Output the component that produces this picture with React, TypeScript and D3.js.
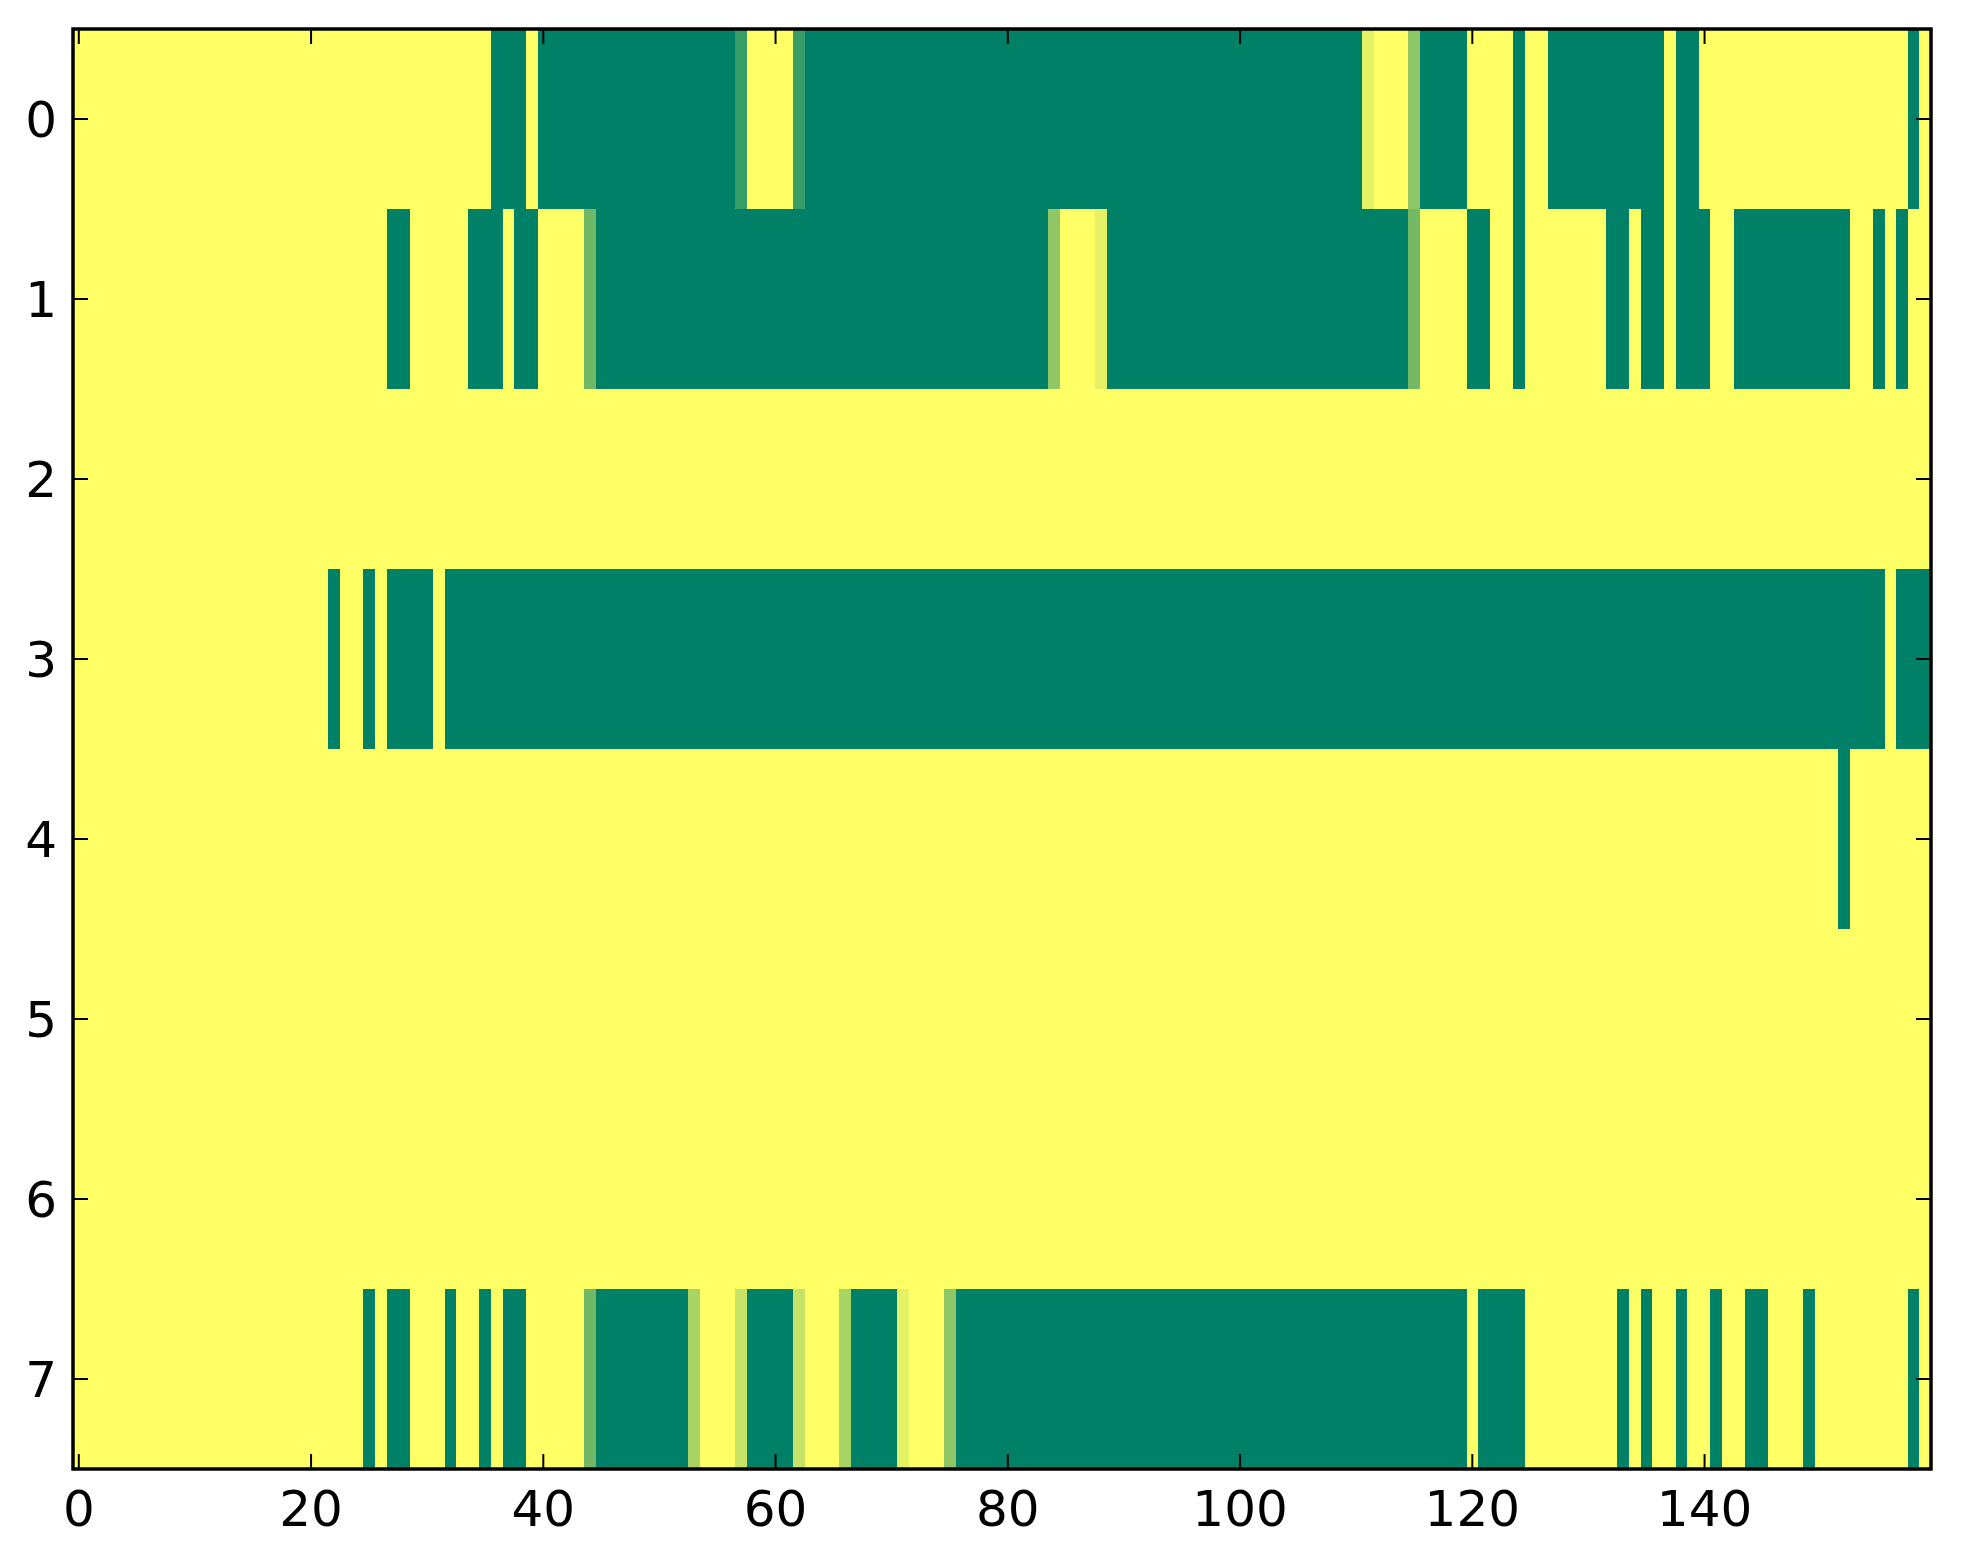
import React, { useEffect, useRef } from 'react';
import * as d3 from 'd3';

// one array per row of the image, 160 columns each
const row0 = [
  0, 0, 0, 0, 0, 0, 0, 0, 0, 0, 0, 0, 0, 0, 0, 0, 0, 0, 0, 0,
  0, 0, 0, 0, 0, 0, 0, 0, 0, 0, 0, 0, 0, 0, 0, 0, 1, 1, 1, 0,
  1, 1, 1, 1, 1, 1, 1, 1, 1, 1, 1, 1, 1, 1, 1, 1, 1, 0.78, 0, 0,
  0, 0, 0.78, 1, 1, 1, 1, 1, 1, 1, 1, 1, 1, 1, 1, 1, 1, 1, 1, 1,
  1, 1, 1, 1, 1, 1, 1, 1, 1, 1, 1, 1, 1, 1, 1, 1, 1, 1, 1, 1,
  1, 1, 1, 1, 1, 1, 1, 1, 1, 1, 1, 0.1, 0, 0, 0, 0.44, 1, 1, 1, 1,
  0, 0, 0, 0, 1, 0, 0, 1, 1, 1, 1, 1, 1, 1, 1, 1, 1, 0, 1, 1,
  0, 0, 0, 0, 0, 0, 0, 0, 0, 0, 0, 0, 0, 0, 0, 0, 0, 0, 1, 0,
];

const row1 = [
  0, 0, 0, 0, 0, 0, 0, 0, 0, 0, 0, 0, 0, 0, 0, 0, 0, 0, 0, 0,
  0, 0, 0, 0, 0, 0, 0, 1, 1, 0, 0, 0, 0, 0, 1, 1, 1, 0, 1, 1,
  0, 0, 0, 0, 0.56, 1, 1, 1, 1, 1, 1, 1, 1, 1, 1, 1, 1, 1, 1, 1,
  1, 1, 1, 1, 1, 1, 1, 1, 1, 1, 1, 1, 1, 1, 1, 1, 1, 1, 1, 1,
  1, 1, 1, 1, 0.44, 0, 0, 0, 0.1, 1, 1, 1, 1, 1, 1, 1, 1, 1, 1, 1,
  1, 1, 1, 1, 1, 1, 1, 1, 1, 1, 1, 1, 1, 1, 1, 0.55, 0, 0, 0, 0,
  1, 1, 0, 0, 1, 0, 0, 0, 0, 0, 0, 0, 1, 1, 0, 1, 1, 0, 1, 1,
  1, 0, 0, 1, 1, 1, 1, 1, 1, 1, 1, 1, 1, 0, 0, 1, 0, 1, 0, 0,
];

const row2 = [
  0, 0, 0, 0, 0, 0, 0, 0, 0, 0, 0, 0, 0, 0, 0, 0, 0, 0, 0, 0,
  0, 0, 0, 0, 0, 0, 0, 0, 0, 0, 0, 0, 0, 0, 0, 0, 0, 0, 0, 0,
  0, 0, 0, 0, 0, 0, 0, 0, 0, 0, 0, 0, 0, 0, 0, 0, 0, 0, 0, 0,
  0, 0, 0, 0, 0, 0, 0, 0, 0, 0, 0, 0, 0, 0, 0, 0, 0, 0, 0, 0,
  0, 0, 0, 0, 0, 0, 0, 0, 0, 0, 0, 0, 0, 0, 0, 0, 0, 0, 0, 0,
  0, 0, 0, 0, 0, 0, 0, 0, 0, 0, 0, 0, 0, 0, 0, 0, 0, 0, 0, 0,
  0, 0, 0, 0, 0, 0, 0, 0, 0, 0, 0, 0, 0, 0, 0, 0, 0, 0, 0, 0,
  0, 0, 0, 0, 0, 0, 0, 0, 0, 0, 0, 0, 0, 0, 0, 0, 0, 0, 0, 0,
];

const row3 = [
  0, 0, 0, 0, 0, 0, 0, 0, 0, 0, 0, 0, 0, 0, 0, 0, 0, 0, 0, 0,
  0, 0, 1, 0, 0, 1, 0, 1, 1, 1, 1, 0, 1, 1, 1, 1, 1, 1, 1, 1,
  1, 1, 1, 1, 1, 1, 1, 1, 1, 1, 1, 1, 1, 1, 1, 1, 1, 1, 1, 1,
  1, 1, 1, 1, 1, 1, 1, 1, 1, 1, 1, 1, 1, 1, 1, 1, 1, 1, 1, 1,
  1, 1, 1, 1, 1, 1, 1, 1, 1, 1, 1, 1, 1, 1, 1, 1, 1, 1, 1, 1,
  1, 1, 1, 1, 1, 1, 1, 1, 1, 1, 1, 1, 1, 1, 1, 1, 1, 1, 1, 1,
  1, 1, 1, 1, 1, 1, 1, 1, 1, 1, 1, 1, 1, 1, 1, 1, 1, 1, 1, 1,
  1, 1, 1, 1, 1, 1, 1, 1, 1, 1, 1, 1, 1, 1, 1, 1, 0, 1, 1, 1,
];

const row4 = [
  0, 0, 0, 0, 0, 0, 0, 0, 0, 0, 0, 0, 0, 0, 0, 0, 0, 0, 0, 0,
  0, 0, 0, 0, 0, 0, 0, 0, 0, 0, 0, 0, 0, 0, 0, 0, 0, 0, 0, 0,
  0, 0, 0, 0, 0, 0, 0, 0, 0, 0, 0, 0, 0, 0, 0, 0, 0, 0, 0, 0,
  0, 0, 0, 0, 0, 0, 0, 0, 0, 0, 0, 0, 0, 0, 0, 0, 0, 0, 0, 0,
  0, 0, 0, 0, 0, 0, 0, 0, 0, 0, 0, 0, 0, 0, 0, 0, 0, 0, 0, 0,
  0, 0, 0, 0, 0, 0, 0, 0, 0, 0, 0, 0, 0, 0, 0, 0, 0, 0, 0, 0,
  0, 0, 0, 0, 0, 0, 0, 0, 0, 0, 0, 0, 0, 0, 0, 0, 0, 0, 0, 0,
  0, 0, 0, 0, 0, 0, 0, 0, 0, 0, 0, 0, 1, 0, 0, 0, 0, 0, 0, 0,
];

const row5 = [...row2];
const row6 = [...row2];

const row7 = [
  0, 0, 0, 0, 0, 0, 0, 0, 0, 0, 0, 0, 0, 0, 0, 0, 0, 0, 0, 0,
  0, 0, 0, 0, 0, 1, 0, 1, 1, 0, 0, 0, 1, 0, 0, 1, 0, 1, 1, 0,
  0, 0, 0, 0, 0.56, 1, 1, 1, 1, 1, 1, 1, 1, 0.34, 0, 0, 0, 0.22, 1, 1,
  1, 1, 0.22, 0, 0, 0, 0.34, 1, 1, 1, 1, 0.1, 0, 0, 0, 0.44, 1, 1, 1, 1,
  1, 1, 1, 1, 1, 1, 1, 1, 1, 1, 1, 1, 1, 1, 1, 1, 1, 1, 1, 1,
  1, 1, 1, 1, 1, 1, 1, 1, 1, 1, 1, 1, 1, 1, 1, 1, 1, 1, 1, 1,
  0, 1, 1, 1, 1, 0, 0, 0, 0, 0, 0, 0, 0, 1, 0, 1, 0, 0, 1, 0,
  0, 1, 0, 0, 1, 1, 0, 0, 0, 1, 0, 0, 0, 0, 0, 0, 0, 0, 1, 0,
];

const rows = [row0, row1, row2, row3, row4, row5, row6, row7];

const xTicks = [0, 20, 40, 60, 80, 100, 120, 140];
const yTicks = [0, 1, 2, 3, 4, 5, 6, 7];

const W = 1963;
const H = 1564;

const App: React.FC = () => {
  const svgRef = useRef<SVGSVGElement | null>(null);

  useEffect(() => {
    if (!svgRef.current) return;
    const svg = d3.select(svgRef.current);
    svg.selectAll('*').remove();

    const nCols = rows[0].length;
    const x = d3.scaleLinear().domain([-0.5, nCols - 0.5]).range([73, 1931]);
    const y = d3.scaleLinear().domain([-0.5, rows.length - 0.5]).range([29, 1469]);
    // summer_r: 0 -> yellow, 1 -> green
    const color = d3.scaleLinear<string>().domain([0, 1]).range(['#ffff66', '#008066']);

    const cells = rows.flatMap((r, ri) => r.map((v, ci) => ({ ri, ci, v })));

    svg
      .append('g')
      .attr('shape-rendering', 'crispEdges')
      .selectAll('rect')
      .data(cells)
      .enter()
      .append('rect')
      .attr('x', (d) => x(d.ci - 0.5))
      .attr('y', (d) => y(d.ri - 0.5))
      .attr('width', (d) => x(d.ci + 0.5) - x(d.ci - 0.5) + 0.6)
      .attr('height', (d) => y(d.ri + 0.5) - y(d.ri - 0.5) + 0.6)
      .attr('fill', (d) => color(d.v));

    const [x0, x1] = x.range();
    const [y0, y1] = y.range();
    const tickLen = 15;

    // inward ticks on all four sides
    const ticks = svg.append('g').attr('stroke', '#000').attr('stroke-width', 2);
    xTicks.forEach((t) => {
      ticks.append('line').attr('x1', x(t)).attr('x2', x(t)).attr('y1', y1).attr('y2', y1 - tickLen);
      ticks.append('line').attr('x1', x(t)).attr('x2', x(t)).attr('y1', y0).attr('y2', y0 + tickLen);
    });
    yTicks.forEach((t) => {
      ticks.append('line').attr('x1', x0).attr('x2', x0 + tickLen).attr('y1', y(t)).attr('y2', y(t));
      ticks.append('line').attr('x1', x1).attr('x2', x1 - tickLen).attr('y1', y(t)).attr('y2', y(t));
    });

    svg
      .append('rect')
      .attr('x', x0)
      .attr('y', y0)
      .attr('width', x1 - x0)
      .attr('height', y1 - y0)
      .attr('fill', 'none')
      .attr('stroke', '#000')
      .attr('stroke-width', 3.5);

    const font = 'DejaVu Sans, sans-serif';
    svg
      .append('g')
      .selectAll('text')
      .data(xTicks)
      .enter()
      .append('text')
      .attr('x', (d) => x(d))
      .attr('y', 1526)
      .attr('text-anchor', 'middle')
      .attr('font-family', font)
      .attr('font-size', 50)
      .text((d) => d);

    svg
      .append('g')
      .selectAll('text')
      .data(yTicks)
      .enter()
      .append('text')
      .attr('x', 57)
      .attr('y', (d) => y(d) + 18)
      .attr('text-anchor', 'end')
      .attr('font-family', font)
      .attr('font-size', 50)
      .text((d) => d);
  }, []);

  return (
    <div style={{ position: 'absolute', left: 0, top: 0 }}>
      <svg ref={svgRef} width={W} height={H} style={{ display: 'block', background: '#fff' }}></svg>
    </div>
  );
};

export default App;
